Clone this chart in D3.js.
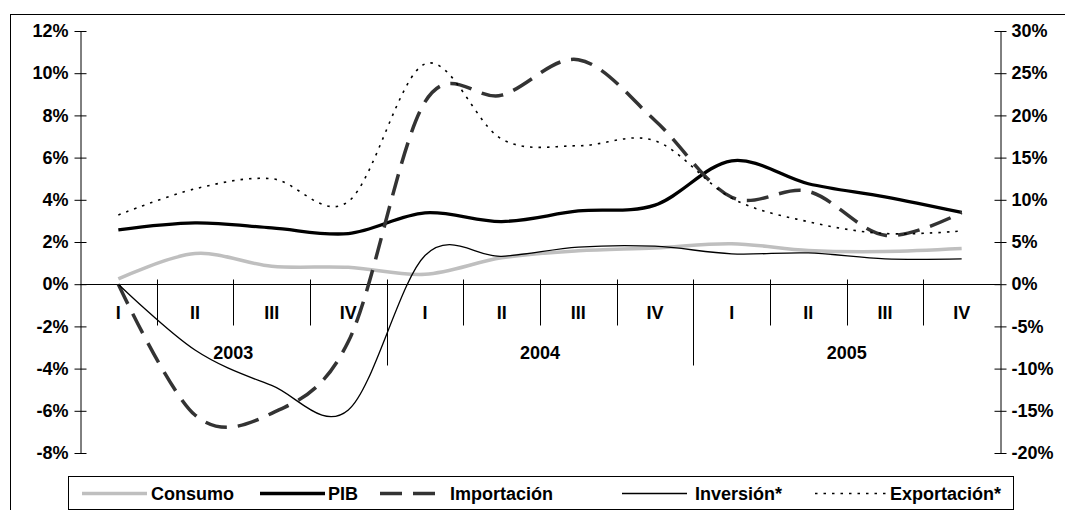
<!DOCTYPE html>
<html>
<head>
<meta charset="utf-8">
<script src="https://cdn.jsdelivr.net/npm/d3@7"></script>
<style>
  body { margin: 0; background: #fff; }
  svg { display: block; font-family: "Liberation Sans", Arial, sans-serif; font-weight: bold; }
</style>
</head>
<body>
<div id="chart"></div>
<script>
// trimestres y años
var quarters = ["I","II","III","IV","I","II","III","IV","I","II","III","IV"];
var years = ["2003","2004","2005"];

// series (% variación), eje izquierdo
var consumo = [0.25, 1.45, 0.85, 0.8, 0.47, 1.25, 1.58, 1.72, 1.92, 1.6, 1.55, 1.69];
var pib     = [2.58, 2.91, 2.67, 2.4, 3.38, 2.97, 3.47, 3.75, 5.85, 4.76, 4.14, 3.4];
// eje derecho
var importacion = [0, -15.5, -15.3, -6.8, 21.6, 22.4, 26.6, 19.4, 10.3, 11.0, 5.8, 8.5];
var inversion   = [0, -7.8, -12.0, -14.9, 3.4, 3.3, 4.4, 4.5, 3.6, 3.7, 3.0, 3.0];
var exportacion = [8.2, 11.3, 12.5, 9.8, 26.1, 17.2, 16.4, 17.0, 10.2, 7.4, 6.0, 6.3];

var leftTicks = [-8,-6,-4,-2,0,2,4,6,8,10,12];
var rightTicks = [-20,-15,-10,-5,0,5,10,15,20,25,30];

var W = 1065, H = 510;
var FS = "18px";
var svg = d3.select("#chart").append("svg").attr("width", W).attr("height", H);

// marco
svg.append("rect").attr("x", 10.5).attr("y", 14.5).attr("width", 1100).attr("height", 600)
  .style("fill", "none").style("stroke", "#000").style("stroke-width", 1);

var x = d3.scaleBand().domain(d3.range(12)).range([80, 1000]);
var bw = x.bandwidth();
var yL = d3.scaleLinear().domain([-8, 12]).range([453, 31]);
var yR = d3.scaleLinear().domain([-20, 30]).range([453, 31]);

// eje izquierdo
var gL = svg.append("g").attr("transform", "translate(80.5,0)")
  .call(d3.axisLeft(yL).tickValues(leftTicks).tickFormat(function(d) { return d + "%"; }).tickSizeOuter(0));
gL.selectAll(".tick line").attr("x1", -6).attr("x2", 6).style("stroke", "#000");
gL.selectAll(".tick text").attr("x", -12).style("font-size", FS).style("font-family", "Liberation Sans, Arial").style("font-weight", "bold").style("fill", "#000");
gL.select(".domain").style("stroke", "#000");

// eje derecho
var gR = svg.append("g").attr("transform", "translate(1000.5,0)")
  .call(d3.axisRight(yR).tickValues(rightTicks).tickFormat(function(d) { return d + "%"; }).tickSizeOuter(0));
gR.selectAll(".tick line").attr("x1", -6).attr("x2", 6).style("stroke", "#000");
gR.selectAll(".tick text").attr("x", 11).style("font-size", FS).style("font-family", "Liberation Sans, Arial").style("font-weight", "bold").style("fill", "#000");
gR.select(".domain").style("stroke", "#000");

// eje x en 0
var y0 = Math.round(yL(0)) + 0.5;
svg.append("line").attr("x1", 80).attr("x2", 1000).attr("y1", y0).attr("y2", y0).style("stroke", "#000");

// separadores de trimestre y año
svg.selectAll(".qtick").data(d3.range(1, 12)).enter().append("line")
  .attr("x1", function(d) { return Math.round(x(d)) + 0.5; })
  .attr("x2", function(d) { return Math.round(x(d)) + 0.5; })
  .attr("y1", y0 - 5)
  .attr("y2", function(d) { return d % 4 === 0 ? y0 + 81 : y0 + 41; })
  .style("stroke", "#000");

svg.selectAll(".qlabel").data(quarters).enter().append("text")
  .attr("x", function(d, i) { return x(i) + bw / 2; })
  .attr("y", y0 + 34)
  .attr("text-anchor", "middle")
  .style("font-size", FS)
  .text(function(d) { return d; });

svg.selectAll(".ylabel").data(years).enter().append("text")
  .attr("x", function(d, i) { return x(i * 4) + 2 * bw; })
  .attr("y", y0 + 74)
  .attr("text-anchor", "middle")
  .style("font-size", FS)
  .text(function(d) { return d; });

// líneas
var series = [
  { name: "Consumo", values: consumo, y: yL, color: "#bfbfbf", width: 3.5, dash: null },
  { name: "PIB", values: pib, y: yL, color: "#000", width: 3.3, dash: null },
  { name: "Importación", values: importacion, y: yR, color: "#333", width: 3.5, dash: "22,11" },
  { name: "Inversión*", values: inversion, y: yR, color: "#000", width: 1.3, dash: null },
  { name: "Exportación*", values: exportacion, y: yR, color: "#000", width: 1.6, dash: "2.5,6" }
];

series.forEach(function(s) {
  var line = d3.line()
    .x(function(d, i) { return x(i) + bw / 2; })
    .y(function(d) { return s.y(d); })
    .curve(d3.curveCardinal.tension(0));
  svg.append("path").datum(s.values)
    .attr("d", line)
    .style("fill", "none")
    .style("stroke", s.color)
    .style("stroke-width", s.width)
    .style("stroke-dasharray", s.dash)
    .style("stroke-linejoin", "round");
});

// leyenda
svg.append("rect").attr("x", 68.5).attr("y", 476.5).attr("width", 945).attr("height", 33)
  .style("fill", "#fff").style("stroke", "#000");

var legendPos = [
  { x1: 82, x2: 147, tx: 151 },
  { x1: 260, x2: 325, tx: 328 },
  { x1: 380, x2: 438, tx: 450 },
  { x1: 622, x2: 687, tx: 695 },
  { x1: 815, x2: 887, tx: 890 }
];
var ly = 493.5;
series.forEach(function(s, i) {
  var p = legendPos[i];
  svg.append("line").attr("x1", p.x1).attr("x2", p.x2).attr("y1", ly).attr("y2", ly)
    .style("stroke", s.color).style("stroke-width", s.width).style("stroke-dasharray", s.dash);
  svg.append("text").attr("x", p.tx).attr("y", ly + 6).style("font-size", FS).text(s.name);
});
</script>
</body>
</html>
